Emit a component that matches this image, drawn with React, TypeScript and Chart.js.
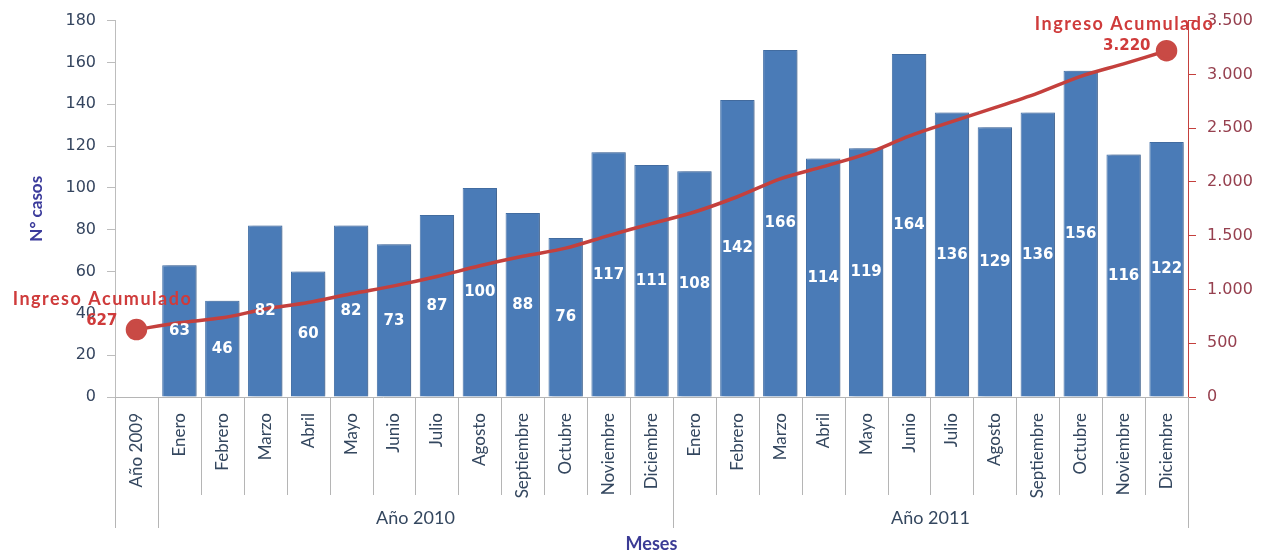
import React, { useEffect, useRef } from "react";
import { Chart, registerables } from "chart.js";

Chart.register(...registerables);

const categories = [
  "Año 2009",
  "Enero", "Febrero", "Marzo", "Abril", "Mayo", "Junio", "Julio", "Agosto", "Septiembre", "Octubre", "Noviembre", "Diciembre",
  "Enero", "Febrero", "Marzo", "Abril", "Mayo", "Junio", "Julio", "Agosto", "Septiembre", "Octubre", "Noviembre", "Diciembre",
];
const casos = [null, 63, 46, 82, 60, 82, 73, 87, 100, 88, 76, 117, 111, 108, 142, 166, 114, 119, 164, 136, 129, 136, 156, 116, 122];
const ingresoAcumulado = [627, 690, 736, 818, 878, 960, 1033, 1120, 1220, 1308, 1384, 1501, 1612, 1720, 1862, 2028, 2142, 2261, 2425, 2561, 2690, 2826, 2982, 3098, 3220];
const yearGroups = [
  { label: "", from: 0, to: 0 },
  { label: "Año 2010", from: 1, to: 12 },
  { label: "Año 2011", from: 13, to: 24 },
];
const leftAxisMax = 180;
const leftAxisStep = 20;
const rightAxisMax = 3500;
const rightAxisStep = 500;
const lineLabel = "Ingreso Acumulado";

const fmtThousands = (v: number) =>
  v >= 1000 ? `${Math.floor(v / 1000)}.${String(v % 1000).padStart(3, "0")}` : String(v);

const barShadowPlugin = {
  id: "barShadow",
  beforeDatasetDraw(chart: any, args: any) {
    if (args.index !== 0) return;
    const ctx = chart.ctx;
    ctx.save();
    ctx.shadowColor = "rgba(70,90,120,0.45)";
    ctx.shadowOffsetX = 4;
    ctx.shadowOffsetY = 0;
    ctx.shadowBlur = 3;
  },
  afterDatasetDraw(chart: any, args: any) {
    if (args.index !== 0) return;
    chart.ctx.restore();
  },
};

const decorPlugin = {
  id: "decor",
  afterDraw(chart: any) {
    const ctx = chart.ctx;
    const area = chart.chartArea;
    const n = categories.length;
    const w = (area.right - area.left) / n;
    const longIdx = new Set<number>();
    yearGroups.forEach((g) => {
      longIdx.add(g.from);
      longIdx.add(g.to + 1);
    });
    ctx.save();
    ctx.strokeStyle = "#b5b5b5";
    ctx.lineWidth = 1;
    for (let i = 0; i <= n; i++) {
      const x = Math.round(area.left + i * w) + 0.5;
      const y2 = area.bottom + (longIdx.has(i) ? 131 : 98);
      ctx.beginPath();
      ctx.moveTo(x, area.bottom);
      ctx.lineTo(x, y2);
      ctx.stroke();
    }
    // group labels
    ctx.fillStyle = "#34475f";
    ctx.font = "18px Lato";
    ctx.textAlign = "center";
    ctx.textBaseline = "middle";
    yearGroups.forEach((g) => {
      if (!g.label) return;
      const cx = area.left + ((g.from + g.to + 1) / 2) * w;
      ctx.fillText(g.label, cx, area.bottom + 121);
    });
    // axis title
    ctx.fillStyle = "#3b3b95";
    ctx.font = "bold 18px Lato";
    ctx.fillText("Meses", (area.left + area.right) / 2, area.bottom + 147);

    // bar value labels
    const meta0 = chart.getDatasetMeta(0);
    ctx.fillStyle = "#ffffff";
    ctx.font = "bold 15px 'DejaVu Sans'";
    meta0.data.forEach((el: any, i: number) => {
      const v = casos[i];
      if (v == null) return;
      const yMid = chart.scales.y.getPixelForValue(v / 2);
      ctx.fillText(String(v), el.x, yMid);
    });

    // line annotations
    const meta1 = chart.getDatasetMeta(1);
    const first = meta1.data[0];
    const last = meta1.data[meta1.data.length - 1];
    ctx.fillStyle = "#cf3b3b";
    ctx.font = "bold 18px Lato";
    ctx.textAlign = "center";
    (ctx as any).letterSpacing = "1.5px";
    ctx.fillText(lineLabel, first.x - 34, first.y - 30);
    ctx.fillText(lineLabel, last.x - 42, last.y - 27);
    (ctx as any).letterSpacing = "0px";
    ctx.font = "bold 15px 'DejaVu Sans'";
    ctx.textAlign = "right";
    ctx.fillText(fmtThousands(ingresoAcumulado[0]), first.x - 19, first.y - 8);
    ctx.fillText(fmtThousands(ingresoAcumulado[ingresoAcumulado.length - 1]), last.x - 16, last.y - 5);
    ctx.restore();
  },
};

export default function App() {
  const canvasRef = useRef<HTMLCanvasElement | null>(null);

  useEffect(() => {
    if (!canvasRef.current) return;
    const lastIdx = ingresoAcumulado.length - 1;
    const chart = new Chart(canvasRef.current, {
      type: "bar",
      data: {
        labels: categories,
        datasets: [
          {
            type: "bar",
            label: "N° casos",
            data: casos as any,
            backgroundColor: "#4a7bb7",
            borderColor: "#426fa6",
            borderWidth: 1,
            barPercentage: 0.8,
            categoryPercentage: 1,
            yAxisID: "y",
            order: 2,
          },
          {
            type: "line",
            label: lineLabel,
            data: ingresoAcumulado,
            borderColor: "#c4403d",
            backgroundColor: "#c4403d",
            borderWidth: 3.5,
            tension: 0.3,
            pointRadius: ingresoAcumulado.map((_, i) => (i === 0 || i === lastIdx ? 9 : 0)),
            pointBackgroundColor: "#c94a45",
            pointBorderColor: "#c94a45",
            yAxisID: "y1",
            order: 1,
          } as any,
        ],
      },
      options: {
        animation: false,
        responsive: true,
        maintainAspectRatio: false,
        layout: { padding: { top: 18, left: 0, right: 0, bottom: 0 } },
        plugins: { legend: { display: false }, tooltip: { enabled: false } },
        scales: {
          x: {
            offset: true,
            grid: { display: false },
            border: { display: true, color: "#b5b5b5" },
            ticks: {
              autoSkip: false,
              minRotation: 90,
              maxRotation: 90,
              padding: 8,
              color: "#34475f",
              font: { family: "Lato", size: 17 },
            },
            afterFit: (scale: any) => {
              scale.height = 157;
            },
          },
          y: {
            position: "left",
            min: 0,
            max: leftAxisMax,
            ticks: {
              stepSize: leftAxisStep,
              padding: 11,
              color: "#35455f",
              font: { family: "DejaVu Sans", size: 16 },
            },
            grid: { drawOnChartArea: false, drawTicks: true, tickLength: 8, color: "#bdbdbd" },
            border: { display: true, color: "#bdbdbd" },
            title: {
              display: true,
              text: "N° casos",
              color: "#3b3b9b",
              font: { family: "Lato", size: 17, weight: "bold" },
              padding: { top: 26, bottom: 0 },
            },
            afterFit: (scale: any) => {
              scale.width = 115;
            },
          },
          y1: {
            position: "right",
            min: 0,
            max: rightAxisMax,
            ticks: {
              stepSize: rightAxisStep,
              padding: 11,
              color: "#96404f",
              font: { family: "DejaVu Sans", size: 16 },
              callback: (v: any) => fmtThousands(Number(v)),
            },
            grid: { drawOnChartArea: false, drawTicks: true, tickLength: 8, color: "#c4403d" },
            border: { display: true, color: "#c4403d" },
            afterFit: (scale: any) => {
              scale.width = 85;
            },
          },
        },
      },
      plugins: [barShadowPlugin, decorPlugin],
    });
    return () => chart.destroy();
  }, []);

  return (
    <div style={{ position: "fixed", left: 0, top: 0, width: 1273, height: 554, background: "#ffffff" }}>
      <canvas ref={canvasRef} />
    </div>
  );
}
